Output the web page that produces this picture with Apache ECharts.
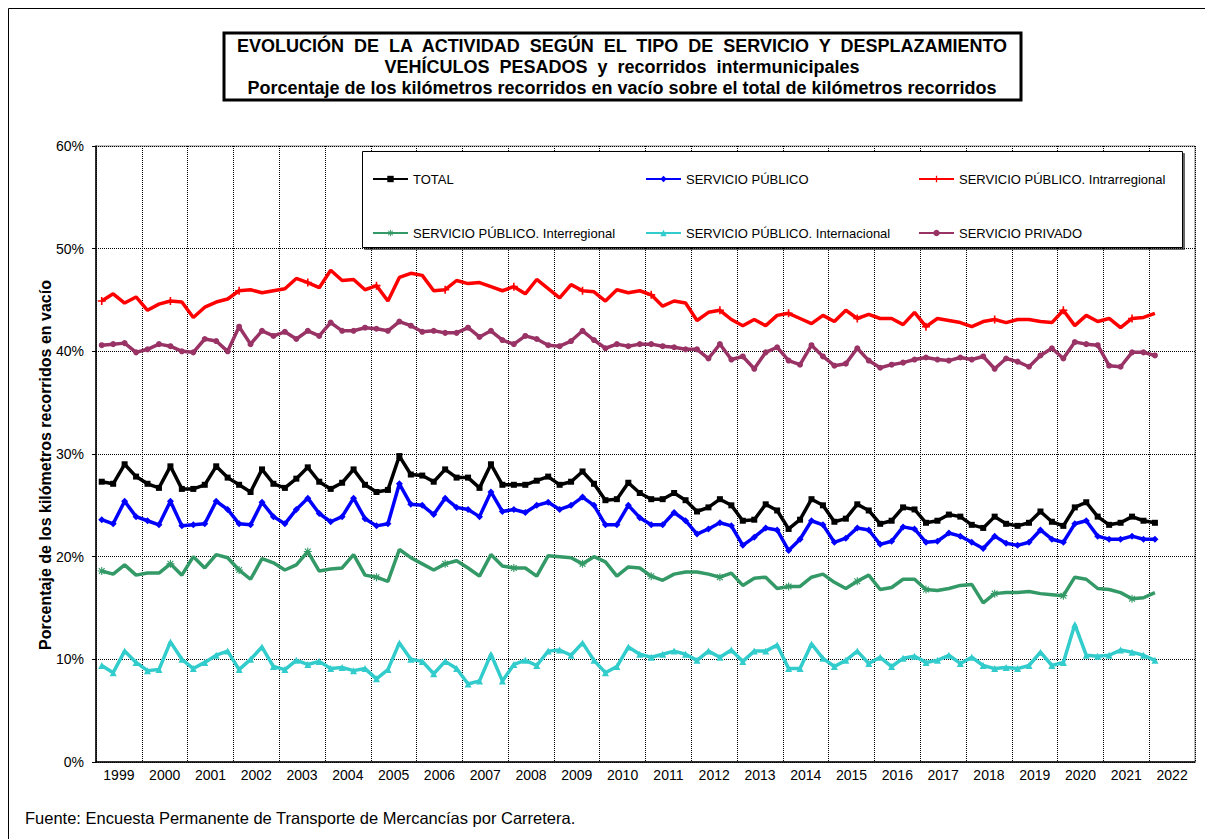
<!DOCTYPE html>
<html>
<head>
<meta charset="utf-8">
<title>Kilómetros recorridos en vacío</title>
<script src="https://cdn.jsdelivr.net/npm/echarts@6/dist/echarts.min.js"></script>
<style>
  html, body { margin: 0; padding: 0; background: #fff; }
  #chart { width: 1205px; height: 839px; }
</style>
</head>
<body>
<div id="chart"></div>
<script>
// Years shown on the axis; each year holds four quarters.
const years = ['1999','2000','2001','2002','2003','2004','2005','2006','2007','2008','2009','2010',
  '2011','2012','2013','2014','2015','2016','2017','2018','2019','2020','2021','2022'];

const yTicks = [0, 10, 20, 30, 40, 50, 60];

const seriesNames = ['TOTAL', 'SERVICIO PÚBLICO', 'SERVICIO PÚBLICO. Intrarregional',
  'SERVICIO PÚBLICO. Interregional', 'SERVICIO PÚBLICO. Internacional', 'SERVICIO PRIVADO'];

// Quarterly percentages, 1999-T1 .. 2022-T1
const total = [27.3,27.1,29.0,27.8,27.1,26.7,28.8,26.6,26.6,27.0,
  28.8,27.7,27.0,26.3,28.5,27.1,26.7,27.6,28.7,27.3,
  26.6,27.2,28.5,27.0,26.3,26.5,29.8,28.0,27.9,27.3,
  28.5,27.7,27.7,26.7,29.0,27.0,27.0,27.0,27.4,27.8,
  27.0,27.3,28.3,27.1,25.5,25.6,27.2,26.2,25.6,25.6,
  26.2,25.5,24.4,24.8,25.6,25.0,23.5,23.6,25.1,24.5,
  22.7,23.6,25.6,25.0,23.4,23.7,25.1,24.5,23.2,23.5,
  24.8,24.6,23.3,23.5,24.1,23.9,23.1,22.8,23.9,23.2,
  23.0,23.3,24.4,23.4,23.0,24.8,25.3,23.9,23.1,23.3,
  23.9,23.5,23.3];

const publico = [23.6,23.2,25.4,23.9,23.5,23.1,25.4,23.0,23.1,23.2,
  25.4,24.6,23.2,23.1,25.3,23.9,23.2,24.6,25.7,24.2,
  23.4,23.9,25.7,23.7,23.0,23.2,27.1,25.1,25.0,24.1,
  25.7,24.8,24.6,23.9,26.3,24.4,24.6,24.3,25.0,25.3,
  24.6,25.0,25.8,25.0,23.1,23.1,25.0,23.8,23.1,23.1,
  24.3,23.5,22.2,22.7,23.3,23.0,21.1,21.9,22.8,22.6,
  20.6,21.7,23.5,23.1,21.4,21.8,22.8,22.6,21.2,21.5,
  22.9,22.7,21.4,21.5,22.3,22.0,21.4,20.8,22.0,21.3,
  21.1,21.4,22.6,21.7,21.4,23.2,23.5,22.0,21.7,21.7,
  22.0,21.7,21.7];

const intrarregional = [44.9,45.6,44.7,45.3,44.0,44.6,44.9,44.8,43.3,44.3,
  44.8,45.1,45.9,46.0,45.7,45.9,46.1,47.1,46.7,46.2,
  47.9,46.9,47.0,46.0,46.4,44.9,47.2,47.6,47.4,45.9,
  46.0,46.9,46.6,46.7,46.3,45.9,46.3,45.6,47.0,46.1,
  45.2,46.5,45.9,45.8,44.9,46.0,45.7,45.9,45.5,44.4,
  44.9,44.7,43.0,43.8,44.0,43.1,42.5,43.1,42.5,43.5,
  43.7,43.2,42.7,43.5,42.9,44.0,43.2,43.6,43.2,43.2,
  42.6,43.8,42.4,43.2,43.0,42.8,42.4,42.9,43.1,42.8,
  43.1,43.1,42.9,42.8,44.0,42.5,43.5,42.9,43.2,42.3,
  43.2,43.3,43.7];

const interregional = [18.6,18.3,19.2,18.2,18.4,18.4,19.3,18.2,20.0,18.9,
  20.2,19.9,18.7,17.8,19.8,19.4,18.7,19.2,20.5,18.6,
  18.8,18.9,20.2,18.2,18.0,17.6,20.7,19.9,19.3,18.7,
  19.3,19.6,18.9,18.1,20.2,19.1,18.9,18.9,18.1,20.1,
  20.0,19.9,19.3,20.0,19.5,18.1,19.0,18.9,18.1,17.7,
  18.3,18.5,18.5,18.3,18.0,18.4,17.2,17.9,18.0,16.9,
  17.1,17.1,18.0,18.3,17.5,16.9,17.6,18.2,16.8,17.0,
  17.8,17.8,16.8,16.7,16.9,17.2,17.3,15.5,16.4,16.5,
  16.5,16.6,16.4,16.3,16.2,18.0,17.8,16.9,16.8,16.5,
  15.9,16.0,16.5];

const internacional = [9.4,8.7,10.8,9.7,8.9,9.0,11.7,10.0,9.1,9.7,
  10.4,10.8,9.0,10.0,11.2,9.3,9.0,9.9,9.5,9.8,
  9.1,9.2,8.9,9.1,8.1,9.0,11.6,10.0,9.8,8.6,
  9.8,9.1,7.6,7.9,10.5,7.9,9.5,9.9,9.4,10.8,
  10.9,10.4,11.6,9.9,8.7,9.3,11.2,10.5,10.2,10.5,
  10.8,10.5,9.9,10.8,10.2,10.9,9.8,10.8,10.8,11.4,
  9.1,9.1,11.5,10.1,9.3,9.9,10.8,9.6,10.2,9.3,
  10.1,10.3,9.7,9.9,10.4,9.6,10.2,9.4,9.1,9.2,
  9.1,9.4,10.7,9.4,9.7,13.4,10.4,10.3,10.4,10.9,
  10.7,10.4,9.9];

const privado = [40.6,40.7,40.8,39.9,40.2,40.7,40.5,40.0,39.9,41.2,
  41.0,40.0,42.4,40.7,42.0,41.5,41.9,41.2,42.0,41.5,
  42.8,42.0,42.0,42.3,42.2,42.0,42.9,42.5,41.9,42.0,
  41.8,41.8,42.3,41.4,42.0,41.1,40.7,41.5,41.2,40.6,
  40.5,41.0,42.0,41.1,40.3,40.7,40.5,40.7,40.7,40.5,
  40.4,40.2,40.2,39.3,40.7,39.2,39.5,38.3,39.9,40.4,
  39.1,38.7,40.6,39.5,38.6,38.8,40.3,39.1,38.4,38.7,
  38.9,39.2,39.4,39.2,39.1,39.4,39.2,39.5,38.3,39.3,
  39.0,38.5,39.6,40.3,39.3,40.9,40.7,40.6,38.6,38.5,
  39.9,39.9,39.6];

const titleLines = [
  'EVOLUCIÓN  DE  LA  ACTIVIDAD  SEGÚN  EL  TIPO  DE  SERVICIO  Y  DESPLAZAMIENTO',
  'VEHÍCULOS  PESADOS  y  recorridos  intermunicipales',
  'Porcentaje de los kilómetros recorridos en vacío sobre el total de kilómetros recorridos'
];
const yAxisTitle = 'Porcentaje de los kilómetros recorridos en vacío';
const sourceNote = 'Fuente: Encuesta Permanente de Transporte de Mercancías por Carretera.';

// One category per quarter, four per year
const quarters = [];
years.forEach(y => { for (let q = 1; q <= 4; q++) quarters.push(y + '-T' + q); });

const FONT = '"Liberation Sans", Arial, sans-serif';

const plusPath = 'path://M4,0H6V4H10V6H6V10H4V6H0V4H4Z';
const starPath = 'path://M4.3,0H5.7V3.3L8.1,0.9L9.1,1.9L6.7,4.3H10V5.7H6.7L9.1,8.1L8.1,9.1L5.7,6.7V10H4.3V6.7L1.9,9.1L0.9,8.1L3.3,5.7H0V4.3H3.3L0.9,1.9L1.9,0.9L4.3,3.3Z';

const styles = [
  { color: '#000000', symbol: 'rect', size: 6 },
  { color: '#0000FF', symbol: 'diamond', size: 7 },
  { color: '#FF0000', symbol: plusPath, size: 8 },
  { color: '#339966', symbol: starPath, size: 8 },
  { color: '#33CCCC', symbol: 'triangle', size: 7 },
  { color: '#993366', symbol: 'circle', size: 6 }
];
const seriesData = [total, publico, intrarregional, interregional, internacional, privado];

// Legend slot positions: [left of the sample line, vertical centre]
const legendSlots = [[372,179],[645,179],[918,179],[372,233],[645,233],[918,233]];

const chart = echarts.init(document.getElementById('chart'), null, { renderer: 'svg' });

const option = {
  animation: false,
  backgroundColor: '#ffffff',
  textStyle: { fontFamily: FONT },
  grid: { left: 96, right: 10, top: 146, bottom: 77, show: true, borderColor: '#808080', borderWidth: 1 },
  xAxis: [
    {
      type: 'category', data: quarters, boundaryGap: true, position: 'top',
      show: false
    },
    {
      type: 'category', data: years, boundaryGap: true, position: 'bottom',
      axisLine: { lineStyle: { color: '#000', width: 1.5 } },
      axisTick: { show: false },
      axisLabel: { color: '#000', fontSize: 14, fontFamily: FONT, margin: 6 },
      splitLine: { show: true, lineStyle: { color: '#000', type: 'dotted', width: 1 } }
    }
  ],
  yAxis: {
    type: 'value', min: 0, max: 60, interval: 10,
    axisLine: { show: true, lineStyle: { color: '#000', width: 1.5 } },
    axisTick: { show: true, length: 4, lineStyle: { color: '#000' } },
    axisLabel: { color: '#000', fontSize: 14, fontFamily: FONT, margin: 12, formatter: '{value}%' },
    splitLine: { show: true, lineStyle: { color: '#000', type: 'dotted', width: 1 } }
  },
  legend: seriesNames.map((name, k) => ({
    data: [name],
    z: 8,
    left: legendSlots[k][0], top: legendSlots[k][1] - 8,
    padding: 0, itemWidth: 35, itemHeight: 8, itemGap: 0,
    selectedMode: false,
    textStyle: { fontSize: 13, color: '#000', fontFamily: FONT, lineHeight: 16 }
  })),
  series: seriesNames.map((name, k) => ({
    name: name,
    type: 'line',
    xAxisIndex: 0,
    data: seriesData[k],
    symbol: styles[k].symbol,
    symbolSize: styles[k].size,
    showSymbol: true,
    lineStyle: { color: styles[k].color, width: 3.5 },
    itemStyle: { color: styles[k].color },
    emphasis: { disabled: true },
    z: 10 - k
  })),
  graphic: [
    // outer frame
    { type: 'rect', shape: { x: 8.5, y: 8.5, width: 1200, height: 840 }, style: { fill: 'none', stroke: '#000', lineWidth: 1 }, z: 0 },
    // title box
    { type: 'rect', shape: { x: 224, y: 33, width: 797, height: 67 }, style: { fill: '#fff', stroke: '#000', lineWidth: 3 }, z: 1 },
    { type: 'text', x: 622, y: 46, style: { text: titleLines[0], font: 'bold 18px ' + FONT, fill: '#000', textAlign: 'center', textVerticalAlign: 'middle' }, z: 2 },
    { type: 'text', x: 622, y: 67, style: { text: titleLines[1], font: 'bold 18px ' + FONT, fill: '#000', textAlign: 'center', textVerticalAlign: 'middle' }, z: 2 },
    { type: 'text', x: 622, y: 88, style: { text: titleLines[2], font: 'bold 18px ' + FONT, fill: '#000', textAlign: 'center', textVerticalAlign: 'middle' }, z: 2 },
    // value axis title
    { type: 'text', x: 45, y: 465, rotation: Math.PI / 2,
      style: { text: yAxisTitle, font: 'bold 16px ' + FONT, fill: '#000', textAlign: 'center', textVerticalAlign: 'middle' }, z: 2 },
    // legend frame
    { type: 'rect', shape: { x: 362.5, y: 151.5, width: 820, height: 96 },
      style: { fill: '#fff', stroke: '#000', lineWidth: 1, shadowColor: 'rgba(0,0,0,0.6)', shadowOffsetX: 2, shadowOffsetY: 2, shadowBlur: 0 }, z: 3 },
    // source note
    { type: 'text', x: 25, y: 818, style: { text: sourceNote, font: '16.5px ' + FONT, fill: '#000', textVerticalAlign: 'middle' }, z: 2 }
  ]
};

chart.setOption(option);
</script>
</body>
</html>
